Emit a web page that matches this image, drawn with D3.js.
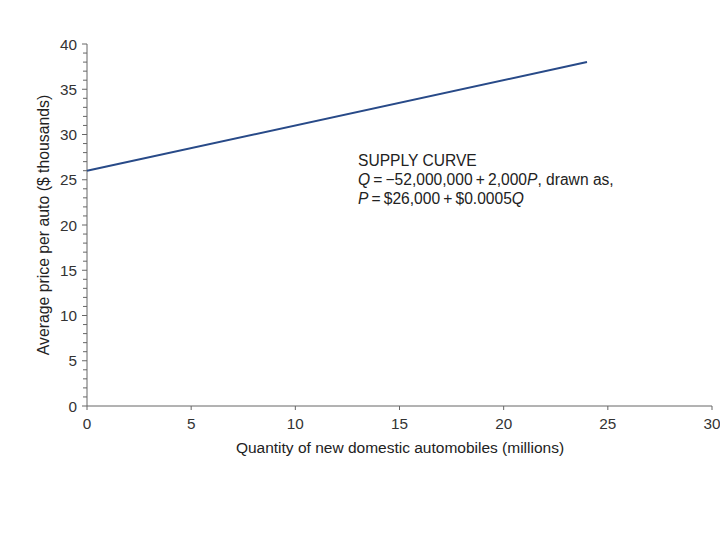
<!DOCTYPE html>
<html><head><meta charset="utf-8">
<script src="https://cdn.jsdelivr.net/npm/d3@7"></script>
<style>body{margin:0;background:#fff}text{font-family:"Liberation Sans",Arial,sans-serif}</style>
</head><body>
<svg id="c" width="720" height="540"></svg>
<script>
const quantity = [0, 24];          // millions
const price = [26, 38];            // $ thousands
const xTicks = [0, 5, 10, 15, 20, 25, 30];
const yTicks = [0, 5, 10, 15, 20, 25, 30, 35, 40];
const yMinor = d3.range(0, 41, 1);
const annotation = ["SUPPLY CURVE"];

const svg = d3.select("#c");
const x = d3.scaleLinear().domain([0, 30]).range([87, 712]);
const y = d3.scaleLinear().domain([0, 40]).range([406, 44]);
const axisColor = "#666";

// Y axis
const gy = svg.append("g").attr("transform", `translate(${x(0)},0)`);
gy.append("line").attr("y1", y(0)).attr("y2", y(40)).attr("stroke", axisColor);
gy.selectAll(".mn").data(yMinor).join("line")
  .attr("x1", d => d % 5 === 0 ? -5 : -4).attr("x2", 0)
  .attr("y1", d => y(d)).attr("y2", d => y(d)).attr("stroke", axisColor);
gy.selectAll(".lb").data(yTicks).join("text")
  .attr("x", -10).attr("y", d => y(d)).attr("dy", "0.36em")
  .attr("text-anchor", "end").attr("font-size", 15.3).attr("fill", "#333").text(d => d);

// X axis
const gx = svg.append("g").attr("transform", `translate(0,${y(0)})`);
gx.append("line").attr("x1", x(0)).attr("x2", x(30)).attr("stroke", axisColor);
gx.selectAll(".tk").data(xTicks).join("line")
  .attr("x1", d => x(d)).attr("x2", d => x(d)).attr("y1", 0).attr("y2", 4).attr("stroke", axisColor);
gx.selectAll(".lb").data(xTicks).join("text")
  .attr("x", d => x(d)).attr("y", 23).attr("text-anchor", "middle")
  .attr("font-size", 15.3).attr("fill", "#333").text(d => d);

// Axis titles
svg.append("text").attr("x", 400).attr("y", 453).attr("text-anchor", "middle")
  .attr("font-size", 15.5).attr("fill", "#222").text("Quantity of new domestic automobiles (millions)");
svg.append("text").attr("transform", `translate(49,225) rotate(-90)`).attr("text-anchor", "middle")
  .attr("font-size", 15.8).attr("fill", "#222").text("Average price per auto ($ thousands)");

// Supply line
const line = d3.line().x((d, i) => x(quantity[i])).y(d => y(d));
svg.append("path").datum(price).attr("d", line)
  .attr("fill", "none").attr("stroke", "#284a88").attr("stroke-width", 2);

// Annotation
const ann = svg.append("text").attr("font-size", 15.6).attr("fill", "#222");
ann.append("tspan").attr("x", 358).attr("y", 166).text(annotation[0]);
const l2 = ann.append("tspan").attr("x", 358).attr("y", 185);
l2.append("tspan").attr("font-style", "italic").text("Q");
l2.append("tspan").text("\u2009=\u2009\u221252,000,000\u2009+\u20092,000");
l2.append("tspan").attr("font-style", "italic").text("P");
l2.append("tspan").text(", drawn as,");
const l3 = ann.append("tspan").attr("x", 358).attr("y", 204);
l3.append("tspan").attr("font-style", "italic").text("P");
l3.append("tspan").text("\u2009=\u2009$26,000\u2009+\u2009$0.0005");
l3.append("tspan").attr("font-style", "italic").text("Q");
</script>
</body></html>
